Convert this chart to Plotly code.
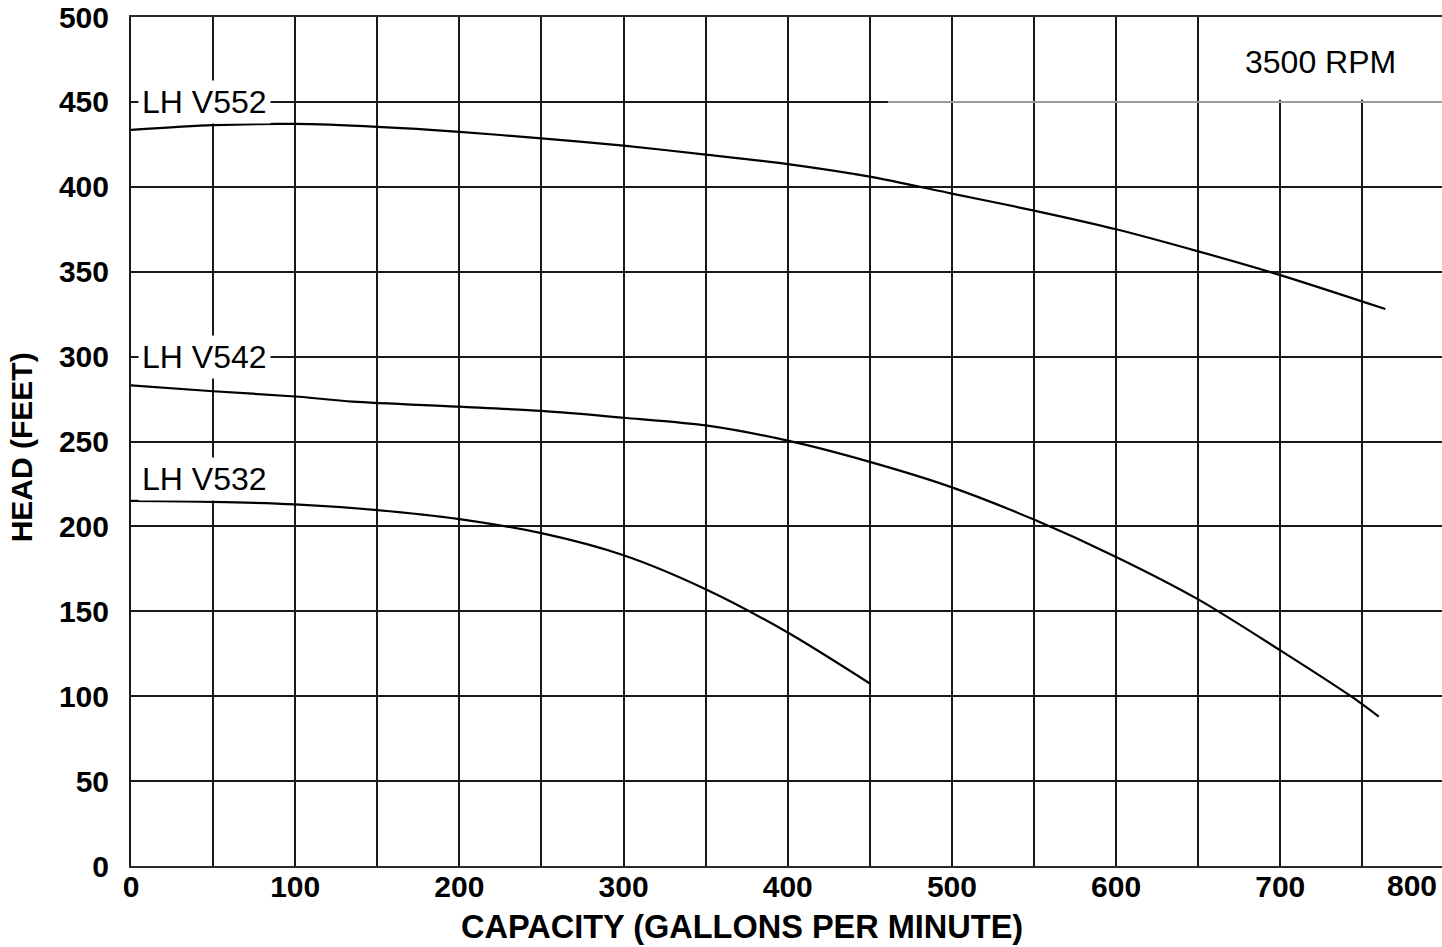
import plotly.graph_objects as go

# ---- data ----
gpm_v552 = [0, 50, 100, 150, 200, 250, 300, 350, 400, 450, 500, 550, 600, 650, 700, 764]
head_v552 = [433.5, 436.3, 437, 435.3, 432.4, 428.5, 424.2, 419, 413.4, 406, 396, 386, 375, 362, 348, 328]

gpm_v542 = [0, 50, 100, 135, 200, 250, 300, 350, 400, 450, 500, 550, 600, 650, 700, 743, 760]
head_v542 = [283, 279.6, 276.5, 273.5, 270.5, 268, 264, 259.5, 250.5, 238, 223, 204, 182, 157, 127, 100, 88]

gpm_v532 = [0, 50, 100, 150, 200, 250, 300, 350, 400, 450]
head_v532 = [215, 214.5, 213, 209.6, 204.3, 196, 183, 163, 137.5, 107.5]

series_names = ["LH V552", "LH V542", "LH V532"]
label_heads = [450, 300, 228]

x_tick_vals = list(range(0, 800, 50))
x_tick_text = [str(v) if v % 100 == 0 else "" for v in x_tick_vals]
last_x_tick = "800"
y_tick_vals = list(range(0, 501, 50))

speed_text = "3500 RPM"
x_title = "CAPACITY (GALLONS PER MINUTE)"
y_title = "HEAD (FEET)"

FONT = "Liberation Sans, Arial, sans-serif"
GRID = "#1a1a1a"

fig = go.Figure()
for name, xs, ys in zip(series_names,
                        [gpm_v552, gpm_v542, gpm_v532],
                        [head_v552, head_v542, head_v532]):
    fig.add_trace(go.Scatter(x=xs, y=ys, mode="lines", name=name,
                             line=dict(color="black", width=2.2, shape="spline", smoothing=0.8),
                             showlegend=False, hoverinfo="x+y+name"))

# white box in the top right corner (gridlines above 450 removed)
fig.add_shape(type="rect", xref="x", yref="y", x0=651.5, x1=800, y0=451.2, y1=500,
              fillcolor="white", line=dict(width=0), layer="between")
# lighter part of the 450 gridline
fig.add_shape(type="line", xref="x", yref="y", x0=461, x1=800, y0=450, y1=450,
              line=dict(color="#9a9a9a", width=2), layer="between")

for name, h in zip(series_names, label_heads):
    fig.add_annotation(x=0, y=h, xref="x", yref="y", text=name, showarrow=False,
                       xanchor="left", yanchor="middle", xshift=7,
                       font=dict(family=FONT, size=32, color="black"),
                       bgcolor="white", borderpad=3)

fig.add_annotation(x=0.907, y=0.947, xref="paper", yref="paper", text=speed_text,
                   showarrow=False, xanchor="center", yanchor="middle",
                   font=dict(family=FONT, size=32, color="black"))

fig.add_annotation(x=1, y=0, xref="paper", yref="paper", text=last_x_tick, showarrow=False,
                   xanchor="right", yanchor="top", xshift=-3, yshift=-1,
                   font=dict(family=FONT, size=30, color="black", weight="bold"))

fig.add_annotation(x=0.4662, y=-0.0721, xref="paper", yref="paper", text=x_title,
                   showarrow=False, xanchor="center", yanchor="middle",
                   font=dict(family=FONT, size=32.5, color="black", weight="bold"))
fig.add_annotation(x=-0.0837, y=0.4934, xref="paper", yref="paper", text=y_title,
                   showarrow=False, xanchor="center", yanchor="middle", textangle=-90,
                   font=dict(family=FONT, size=30, color="black", weight="bold"))

fig.update_xaxes(range=[0, 798.5], tickvals=x_tick_vals, ticktext=x_tick_text,
                 showgrid=True, gridcolor=GRID, gridwidth=1.6, zeroline=False,
                 showline=True, linecolor="#2a2a2a", linewidth=2, mirror=True,
                 ticks="", ticklabelstandoff=-7, ticklabeloverflow="allow",
                 tickfont=dict(family=FONT, size=30, color="black", weight="bold"),
                 fixedrange=True)
fig.update_yaxes(range=[0, 500], tickvals=y_tick_vals,
                 showgrid=True, gridcolor=GRID, gridwidth=1.6, zeroline=False,
                 showline=True, linecolor="#1a1a1a", linewidth=2, mirror=False,
                 ticks="", ticklabelstandoff=14, ticklabeloverflow="allow",
                 tickfont=dict(family=FONT, size=30, color="black", weight="bold"),
                 fixedrange=True)

fig.update_layout(width=1442, height=947, autosize=False,
                  margin=dict(l=131, r=0, t=15, b=81),
                  paper_bgcolor="white", plot_bgcolor="white",
                  font=dict(family=FONT, color="black"))

fig.write_html("out.html", config={"displayModeBar": False},
               post_script="document.body.style.margin='0';document.body.style.overflow='hidden';")
